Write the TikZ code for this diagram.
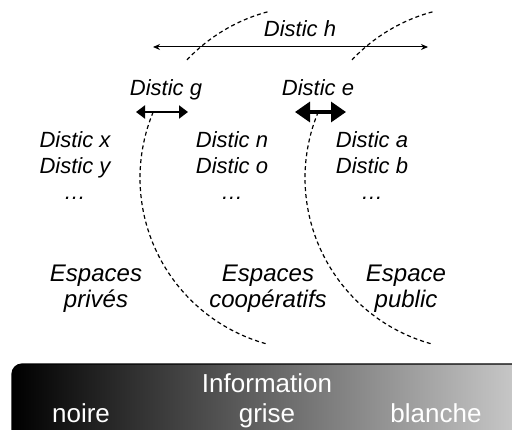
\documentclass[tikz,border=0pt]{standalone}
\usepackage{fontspec}
\setmainfont{Liberation Sans}
\usetikzlibrary{positioning}
\usetikzlibrary{arrows.meta}
\definecolor{accent}{rgb}{0.82,0.82,0.82}

\begin{document}
\begin{tikzpicture}[
  x = 0.5pt, y = 0.5pt,
  label/.style = {font=\itshape\fontsize{11}{13}\selectfont, align=center, inner sep=0pt},
  space/.style = {font=\itshape\fontsize{12}{13}\selectfont, align=center, inner sep=0pt},
  info/.style = {font=\fontsize{13}{15}\selectfont, text=white, inner sep=0pt},
  border/.style = {line width=0.6pt, dash pattern=on 2pt off 1.5pt},
  thin arrow/.style = {line width=0.5pt, {Stealth[length=3.5pt,width=3pt]}-{Stealth[length=3.5pt,width=3pt]}},
  mid arrow/.style = {line width=1pt, {Triangle[length=4.5pt,width=6.5pt]}-{Triangle[length=4.5pt,width=6.5pt]}},
  big arrow/.style = {line width=1.6pt, {Triangle[length=7.5pt,width=10pt]}-{Triangle[length=7.5pt,width=10pt]}},
]

  \useasboundingbox (0,0) rectangle (512,429);

  \coordinate (c1) at (312,251);
  \coordinate (c2) at (477,251);

  \coordinate (hl) at (153,382);
  \coordinate (hr) at (428,382);
  \coordinate (gl) at (136,317);
  \coordinate (gr) at (188,317);
  \coordinate (el) at (295,317);
  \coordinate (er) at (346,317);

  % information bar
  \begin{scope}
    \clip (0,0) rectangle (512,429);
    \shade[left color=black, right color=accent, draw=black, line width=0.6pt,
      rounded corners=5pt] (12,65) rectangle (540,-20);
  \end{scope}

  % borders between the spaces
  \draw[border] (c1) ++(105:172) arc[start angle=105, end angle=137.6, radius=172];
  \draw[border] (c1) ++(157.4:172) arc[start angle=157.4, end angle=255, radius=172];
  \draw[border] (c2) ++(105:172) arc[start angle=105, end angle=137.6, radius=172];
  \draw[border] (c2) ++(157.4:172) arc[start angle=157.4, end angle=255, radius=172];

  \draw[thin arrow] (hl) -- (hr);
  \draw[mid arrow] (gl) -- (gr);
  \draw[big arrow] (el) -- (er);

  \node[label, anchor=base] (h) at (300,392) {Distic h};
  \node[label, anchor=base] (g) at (166,334) {Distic g};
  \node[label, anchor=base] (e) at (318,334) {Distic e};

  \node[label, anchor=north] (xy) at (75,298) {Distic x\\Distic y\\\ldots};
  \node[label, anchor=north] (no) at (232,298) {Distic n\\Distic o\\\ldots};
  \node[label, anchor=north] (ab) at (372,298) {Distic a\\Distic b\\\ldots};

  \node[space, anchor=north] (prive) at (96,164) {Espaces\\privés};
  \node[space, anchor=north] (coop) at (268,164) {Espaces\\coopératifs};
  \node[space, anchor=north] (public) at (406,164) {Espace\\public};

  \node[info, anchor=base] (inf) at (267,37) {Information};
  \node[info, anchor=base] (noire) at (81,7) {noire};
  \node[info, anchor=base] (grise) at (267,7) {grise};
  \node[info, anchor=base] (blanche) at (436,7) {blanche};

\end{tikzpicture}
\end{document}
